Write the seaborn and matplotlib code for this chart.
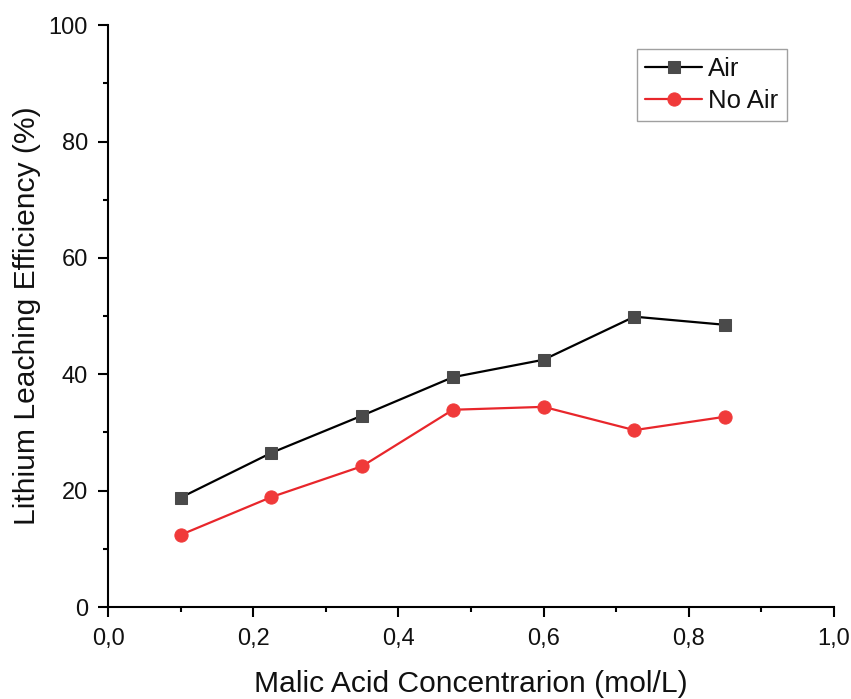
import matplotlib
matplotlib.use("Agg")
import matplotlib.pyplot as plt
import seaborn as sns
import pandas as pd
from matplotlib.ticker import MultipleLocator, FuncFormatter

concentration = [0.1, 0.225, 0.35, 0.475, 0.6, 0.725, 0.85]
air = [18.8, 26.5, 32.9, 39.5, 42.5, 49.9, 48.5]
no_air = [12.4, 18.9, 24.2, 33.9, 34.4, 30.4, 32.7]

sns.set_theme(style="ticks")
plt.rcParams['font.family'] = ['Liberation Sans', 'DejaVu Sans']

fig = plt.figure(figsize=(8.51, 6.99), dpi=100)
ax = fig.add_axes([0.127, 0.1316, 0.853, 0.8324])

df_air = pd.DataFrame({"x": concentration, "y": air})
df_no = pd.DataFrame({"x": concentration, "y": no_air})

sns.lineplot(data=df_air, x="x", y="y", ax=ax, color="black", linewidth=1.6,
             marker="s", markersize=8.5, markerfacecolor="#4a4a4a",
             markeredgecolor="#4a4a4a", label="Air")
sns.lineplot(data=df_no, x="x", y="y", ax=ax, color="#e8262b", linewidth=1.6,
             marker="o", markersize=9.5, markerfacecolor="#f03a3a",
             markeredgecolor="#f03a3a", label="No Air")

ax.set_xlim(0, 1.0)
ax.set_ylim(0, 100)
ax.xaxis.set_major_locator(MultipleLocator(0.2))
ax.xaxis.set_minor_locator(MultipleLocator(0.1))
ax.yaxis.set_major_locator(MultipleLocator(20))
ax.yaxis.set_minor_locator(MultipleLocator(10))
ax.xaxis.set_major_formatter(FuncFormatter(lambda v, p: f"{v:.1f}".replace(".", ",")))
ax.tick_params(axis="both", which="major", direction="out", length=7, width=1.5,
               labelsize=17, color="black", labelcolor="#111111")
ax.tick_params(axis="x", which="major", pad=8)
ax.tick_params(axis="y", which="major", pad=7.5)
ax.tick_params(axis="both", which="minor", direction="out", length=3.5, width=1.5,
               color="black")
for s in ["top", "right"]:
    ax.spines[s].set_visible(False)
for s in ["left", "bottom"]:
    ax.spines[s].set_linewidth(1.5)
    ax.spines[s].set_color("black")

ax.set_xlabel("Malic Acid Concentrarion (mol/L)", fontsize=21.6, color="#111111")
ax.set_ylabel("Lithium Leaching Efficiency (%)", fontsize=21.6, color="#111111")
ax.xaxis.set_label_coords(0.5, -0.108)
ax.yaxis.set_label_coords(-0.092, 0.5)

leg = ax.legend(loc="upper right", bbox_to_anchor=(0.935, 0.959), fontsize=18.5,
                frameon=True, fancybox=False, edgecolor="#888888",
                handlelength=2.2, borderpad=0.32, labelspacing=0.3,
                handletextpad=0.25, borderaxespad=0)
leg.get_frame().set_linewidth(1.0)
for t in leg.get_texts():
    t.set_color("#111111")

fig.savefig("out.png", dpi=100)
